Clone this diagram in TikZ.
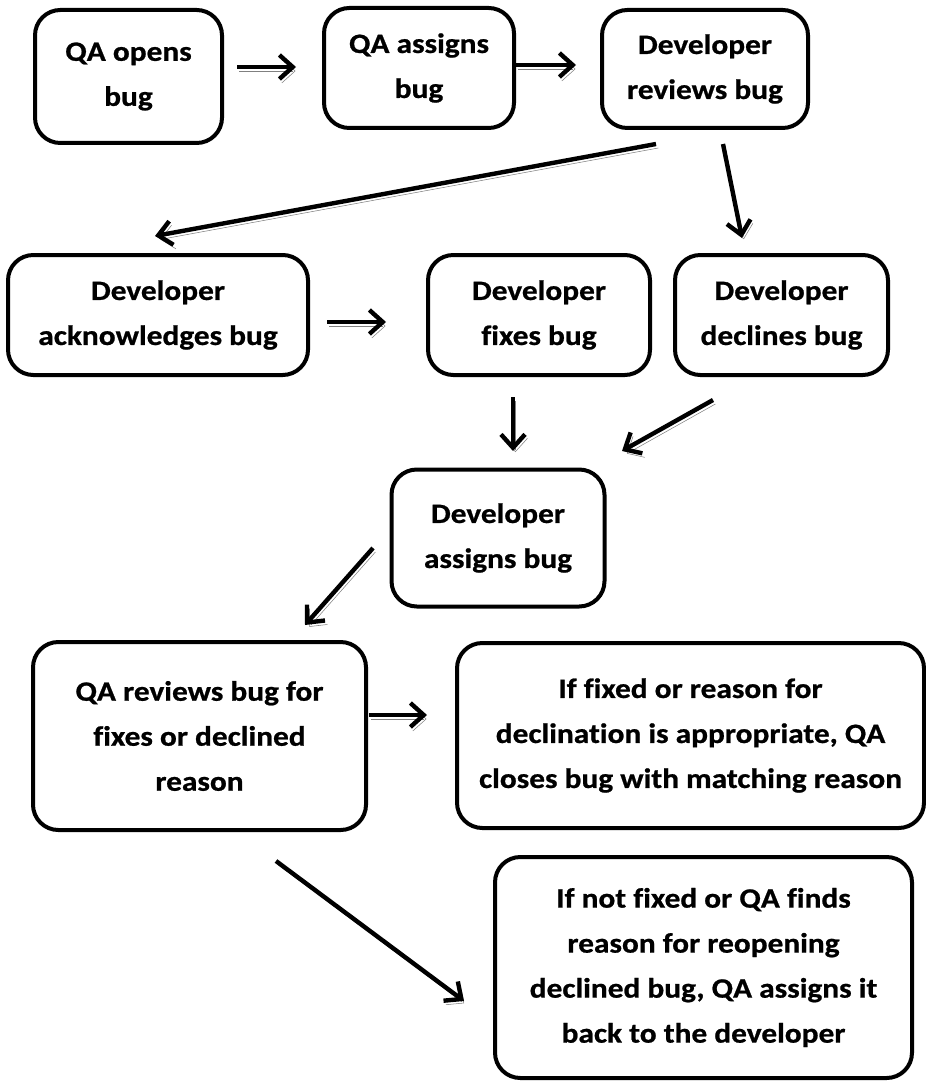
\documentclass[tikz,border=0pt]{standalone}
\usepackage{fontspec}
\newfontfamily\stepfont{Carlito}[FakeStretch=1.12,Ligatures=NoCommon,
  BoldFeatures={FakeBold=0.8}]
\usepackage{tikz}
\usetikzlibrary{calc,arrows.meta}

\tikzset{
  stepbox/.style={draw,line width=3pt,rounded corners=19pt,inner sep=0pt,
    align=center,font=\stepfont\bfseries\fontsize{21}{33.75}\selectfont},
  boxsize/.style 2 args={minimum width=#1*0.75pt,minimum height=#2*0.75pt},
  flow/.style={line width=3.3pt,-{Straight Barb[length=10pt,width=18pt]},
    preaction={draw,black!50,transform canvas={xshift=1.8pt,yshift=-3pt}}}
}

\begin{document}
\begin{tikzpicture}[x=0.75pt,y=-0.75pt]
  \useasboundingbox (0,0) rectangle (925,1084);

  \node [stepbox,boxsize={187}{133}] (qaopen) at (128.5,76.5) {QA opens\\bug};
  \node [stepbox,boxsize={190}{120}] (qaassign) at (419,68) {QA assigns\\bug};
  \node [stepbox,boxsize={206}{118}] (devreview) at (705,69) {Developer\\reviews bug};

  \node [stepbox,boxsize={300}{120}] (devack) at (158,315) {Developer\\acknowledges bug};
  \node [stepbox,boxsize={222}{120}] (devfix) at (539,315) {Developer\\fixes bug};
  \node [stepbox,boxsize={213}{120}] (devdecline) at (781.5,315) {Developer\\declines bug};

  \node [stepbox,boxsize={213}{137}] (devassign) at (498,538) {Developer\\assigns bug};

  \node [stepbox,boxsize={333}{188}] (qareview) at (199.5,736) {QA reviews bug for\\fixes or declined\\reason};
  \node [stepbox,boxsize={467}{185}] (qaclose) at (690.5,735.5) {If fixed or reason for\\declination is appropriate, QA\\closes bug with matching reason};
  \node [stepbox,boxsize={417}{221}] (qareopen) at (703.5,967.5) {If not fixed or QA finds\\reason for reopening\\declined bug, QA assigns it\\back to the developer};

  % arrow ends
  \coordinate (a1s) at ($(qaopen.east)+(13,-9.5)$);
  \coordinate (a1e) at ($(qaassign.west)+(-26,-1)$);
  \coordinate (a2s) at ($(qaassign.east)+(0,-3)$);
  \coordinate (a2e) at ($(devreview.west)+(-24,-4)$);
  \coordinate (a3s) at ($(devreview.south west)+(56,14)$);
  \coordinate (a3e) at ($(devack.north)+(-3,-17)$);
  \coordinate (a4s) at ($(devreview.south)+(18,14)$);
  \coordinate (a4e) at ($(devdecline.north)+(-39.5,-15)$);
  \coordinate (a5s) at ($(devack.east)+(17,7)$);
  \coordinate (a5e) at ($(devfix.west)+(-40,7)$);
  \coordinate (a6s) at ($(devfix.south)+(-26,20)$);
  \coordinate (a6e) at ($(devassign.north)+(15,-16.5)$);
  \coordinate (a7s) at ($(devdecline.south)+(-68.5,23)$);
  \coordinate (a7e) at ($(devassign.north east)+(15.5,-16.5)$);
  \coordinate (a8s) at ($(devassign.west)+(-16.5,10)$);
  \coordinate (a8e) at ($(qareview.north)+(105.5,-15)$);
  \coordinate (a9s) at ($(qareview.east)+(1,-21)$);
  \coordinate (a9e) at ($(qaclose.west)+(-28,-20.5)$);
  \coordinate (a10s) at ($(qareview.south)+(76.5,29)$);
  \coordinate (a10e) at ($(qareopen.west)+(-29,33.5)$);

  \draw [flow] (a1s) -- (a1e);
  \draw [flow] (a2s) -- (a2e);
  \draw [flow] (a3s) -- (a3e);
  \draw [flow] (a4s) -- (a4e);
  \draw [flow] (a5s) -- (a5e);
  \draw [flow] (a6s) -- (a6e);
  \draw [flow] (a7s) -- (a7e);
  \draw [flow] (a8s) -- (a8e);
  \draw [flow] (a9s) -- (a9e);
  \draw [flow] (a10s) -- (a10e);
\end{tikzpicture}
\end{document}
